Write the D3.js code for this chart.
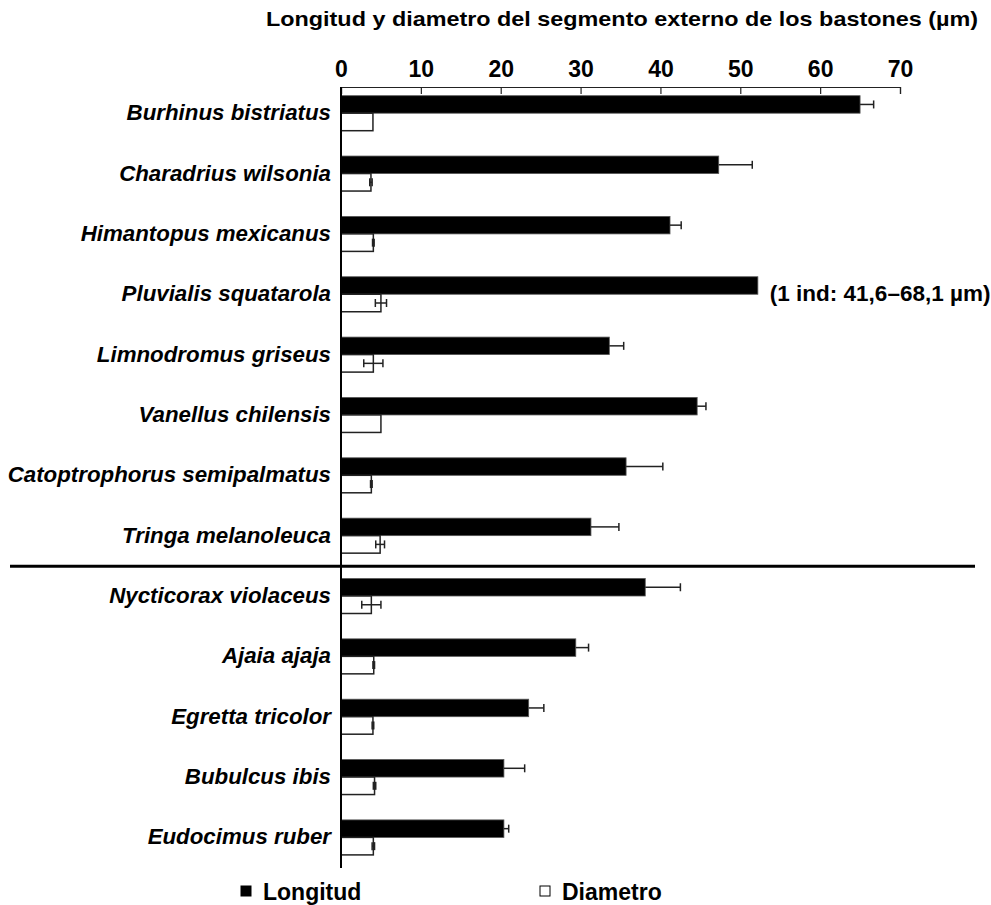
<!DOCTYPE html>
<html lang="es">
	<head>
		<meta charset="utf-8">
		<title>D3: Bastones</title>
		<script src="https://cdn.jsdelivr.net/npm/d3@7"></script>
		<style type="text/css">
			body { margin: 0; background: #fff; }
			text { font-family: "Liberation Sans", Arial, sans-serif; font-weight: bold; fill: #000; }
			.species { font-style: italic; font-size: 22.3px; }
			.axis text { font-size: 23px; }
			.axis path, .axis line { stroke: #222; stroke-width: 1.2; }
			.title { font-size: 21px; }
			.note { font-size: 22.5px; }
			.legend { font-size: 23px; }
			.long { fill: #000; stroke: #555; stroke-width: 0.8; }
			.diam { fill: #fff; stroke: #222; stroke-width: 1.5; }
			.err { stroke: #222; stroke-width: 1.5; fill: none; }
		</style>
	</head>
	<body>
		<script>
			//Data
			var species = ["Burhinus bistriatus", "Charadrius wilsonia", "Himantopus mexicanus",
				"Pluvialis squatarola", "Limnodromus griseus", "Vanellus chilensis",
				"Catoptrophorus semipalmatus", "Tringa melanoleuca", "Nycticorax violaceus",
				"Ajaia ajaja", "Egretta tricolor", "Bubulcus ibis", "Eudocimus ruber"];
			var longitud    = [65.0, 47.3, 41.2, 52.2, 33.6, 44.6, 35.7, 31.3, 38.1, 29.4, 23.5, 20.4, 20.4];
			var longitudErr = [1.7, 4.2, 1.4, null, 1.8, 1.1, 4.6, 3.5, 4.4, 1.6, 1.9, 2.6, 0.6];
			var diametro    = [4.0, 3.75, 4.05, 5.0, 4.05, 5.0, 3.8, 4.9, 3.8, 4.1, 4.0, 4.2, 4.05];
			var diametroErr = [0, 0.15, 0.1, 0.7, 1.2, 0, 0.1, 0.55, 1.2, 0.1, 0.1, 0.15, 0.15];
			var xTicks = [0, 10, 20, 30, 40, 50, 60, 70];
			var series = ["Longitud", "Diametro"];
			var splitAfter = "Tringa melanoleuca";  //shorebirds above the line, waders below
			var note = "(1 ind: 41,6\u201368,1 \u00b5m)";

			var w = 991;
			var h = 905;

			var dataset = species.map(function(s, i) {
				return { name: s, len: longitud[i], lenErr: longitudErr[i], dia: diametro[i], diaErr: diametroErr[i] };
			});

			//Scales
			var xScale = d3.scaleLinear()
						.domain([0, 70])
						.range([341, 900]);

			var yScale = d3.scaleBand()
						.domain(species)
						.range([87, 87 + 60.35 * species.length]);

			var sub = d3.scaleBand()
						.domain(series)
						.range([8.7, 8.7 + 35]);

			var svg = d3.select("body")
						.append("svg")
						.attr("width", w)
						.attr("height", h);

			//Title (slightly wide lettering, as in the original)
			svg.append("text")
				.attr("class", "title")
				.attr("x", 266)
				.attr("y", 26)
				.attr("textLength", 712)
				.attr("lengthAdjust", "spacingAndGlyphs")
				.text("Longitud y diametro del segmento externo de los bastones (\u00b5m)");

			//Top axis, ticks pointing into the plot
			var xAxis = d3.axisTop(xScale)
						.tickValues(xTicks)
						.tickSize(-7)
						.tickSizeOuter(-7)
						.tickPadding(10);

			svg.append("g")
				.attr("class", "axis")
				.attr("transform", "translate(0,87)")
				.call(xAxis)
				.selectAll("text")
				.attr("dy", "0");

			//Rows
			var row = svg.selectAll("g.row")
						.data(dataset)
						.enter()
						.append("g")
						.attr("class", "row")
						.attr("transform", function(d) { return "translate(0," + yScale(d.name) + ")"; });

			row.append("rect")
				.attr("class", "long")
				.attr("x", xScale(0))
				.attr("y", sub("Longitud"))
				.attr("width", function(d) { return xScale(d.len) - xScale(0); })
				.attr("height", sub.bandwidth());

			row.append("rect")
				.attr("class", "diam")
				.attr("x", xScale(0))
				.attr("y", sub("Diametro"))
				.attr("width", function(d) { return xScale(d.dia) - xScale(0); })
				.attr("height", sub.bandwidth());

			//Error bars: longitud only to the right, diametro both ways
			var lenErr = row.filter(function(d) { return d.lenErr; });
			var cyL = sub("Longitud") + sub.bandwidth() / 2;
			lenErr.append("line")
				.attr("class", "err")
				.attr("x1", function(d) { return xScale(d.len); })
				.attr("x2", function(d) { return xScale(d.len + d.lenErr); })
				.attr("y1", cyL)
				.attr("y2", cyL);
			lenErr.append("line")
				.attr("class", "err")
				.attr("x1", function(d) { return xScale(d.len + d.lenErr); })
				.attr("x2", function(d) { return xScale(d.len + d.lenErr); })
				.attr("y1", cyL - 4)
				.attr("y2", cyL + 4);

			var diaErr = row.filter(function(d) { return d.diaErr; });
			var cyD = sub("Diametro") + sub.bandwidth() / 2;
			diaErr.append("line")
				.attr("class", "err")
				.attr("x1", function(d) { return xScale(d.dia - d.diaErr); })
				.attr("x2", function(d) { return xScale(d.dia + d.diaErr); })
				.attr("y1", cyD)
				.attr("y2", cyD);
			diaErr.selectAll("line.cap")
				.data(function(d) { return [d.dia - d.diaErr, d.dia + d.diaErr]; })
				.enter()
				.append("line")
				.attr("class", "err cap")
				.attr("x1", function(v) { return xScale(v); })
				.attr("x2", function(v) { return xScale(v); })
				.attr("y1", cyD - 4)
				.attr("y2", cyD + 4);

			//Species names
			row.append("text")
				.attr("class", "species")
				.attr("x", 331)
				.attr("y", sub("Diametro") + 7)
				.attr("text-anchor", "end")
				.text(function(d) { return d.name; });

			//Left axis line
			svg.append("line")
				.attr("x1", xScale(0))
				.attr("x2", xScale(0))
				.attr("y1", 87)
				.attr("y2", 868)
				.attr("stroke", "#000")
				.attr("stroke-width", 2);

			//Separator between groups
			var ySplit = yScale(splitAfter) + sub("Diametro") + sub.bandwidth() + 13;
			svg.append("line")
				.attr("x1", 10)
				.attr("x2", 975)
				.attr("y1", ySplit)
				.attr("y2", ySplit)
				.attr("stroke", "#000")
				.attr("stroke-width", 3);

			//Note for Pluvialis
			var pl = dataset[3];
			svg.append("text")
				.attr("class", "note")
				.attr("x", xScale(pl.len) + 12)
				.attr("y", yScale(pl.name) + sub("Diametro") + 7)
				.text(note);

			//Legend
			var legend = svg.selectAll("g.leg")
						.data(series)
						.enter()
						.append("g")
						.attr("class", "leg")
						.attr("transform", function(d, i) { return "translate(" + (241 + i * 299) + ",0)"; });

			legend.append("rect")
				.attr("x", 0)
				.attr("y", 886)
				.attr("width", 10)
				.attr("height", 10)
				.attr("fill", function(d, i) { return i == 0 ? "#000" : "#fff"; })
				.attr("stroke", "#000")
				.attr("stroke-width", 1);

			legend.append("text")
				.attr("class", "legend")
				.attr("x", 22)
				.attr("y", 900)
				.text(function(d) { return d; });

		</script>
	</body>
</html>
